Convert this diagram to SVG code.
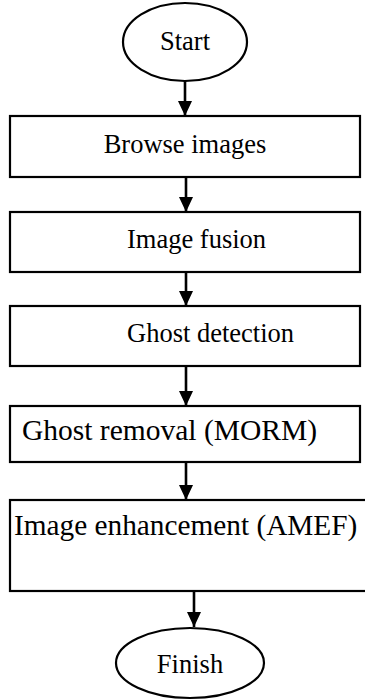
<svg xmlns="http://www.w3.org/2000/svg" width="365" height="700" viewBox="0 0 365 700">
  <style>
    .shape { fill: #ffffff; stroke: #000000; stroke-width: 2.2; }
    .label { font-family: "Liberation Serif", "Times New Roman", serif; font-size: 26.5px; fill: #000000; }
    .flow { stroke: #000000; stroke-width: 2.6; fill: none; }
  </style>
  <defs>
    <marker id="arrowhead" markerUnits="userSpaceOnUse" markerWidth="16" markerHeight="16" viewBox="0 0 16 16" refX="15" refY="8" orient="auto">
      <path d="M0,1 L15,8 L0,15 Z" fill="#000000"/>
    </marker>
  </defs>

  <rect width="365" height="700" fill="#ffffff"/>

  <!-- process steps -->
  <g id="start">
    <ellipse class="shape" cx="185" cy="42" rx="62" ry="39"/>
    <text class="label" x="185" y="50" text-anchor="middle">Start</text>
  </g>
  <g id="browse-images">
    <rect class="shape" x="10" y="116" width="350" height="61"/>
    <text class="label" x="185" y="153" text-anchor="middle">Browse images</text>
  </g>
  <g id="image-fusion">
    <rect class="shape" x="10" y="212" width="350" height="60"/>
    <text class="label" x="127" y="248">Image fusion</text>
  </g>
  <g id="ghost-detection">
    <rect class="shape" x="10" y="306" width="350" height="60"/>
    <text class="label" x="127" y="342">Ghost detection</text>
  </g>
  <g id="ghost-removal">
    <rect class="shape" x="10" y="406" width="350" height="56"/>
    <text class="label" x="22" y="440" style="font-size:29.5px">Ghost removal (MORM)</text>
  </g>
  <g id="image-enhancement">
    <rect class="shape" x="10" y="500" width="360" height="91"/>
    <text class="label" x="14" y="535" style="font-size:29.3px">Image enhancement (AMEF)</text>
  </g>
  <g id="finish">
    <ellipse class="shape" cx="190" cy="663" rx="74" ry="35"/>
    <text class="label" x="190" y="673" text-anchor="middle">Finish</text>
  </g>

  <!-- connectors -->
  <g id="connectors">
    <line class="flow" x1="185" y1="81" x2="185" y2="116" marker-end="url(#arrowhead)"/>
    <line class="flow" x1="186" y1="177" x2="186" y2="212" marker-end="url(#arrowhead)"/>
    <line class="flow" x1="186" y1="272" x2="186" y2="306" marker-end="url(#arrowhead)"/>
    <line class="flow" x1="186" y1="366" x2="186" y2="406" marker-end="url(#arrowhead)"/>
    <line class="flow" x1="186" y1="462" x2="186" y2="500" marker-end="url(#arrowhead)"/>
    <line class="flow" x1="194" y1="591" x2="194" y2="627" marker-end="url(#arrowhead)"/>
  </g>
</svg>
